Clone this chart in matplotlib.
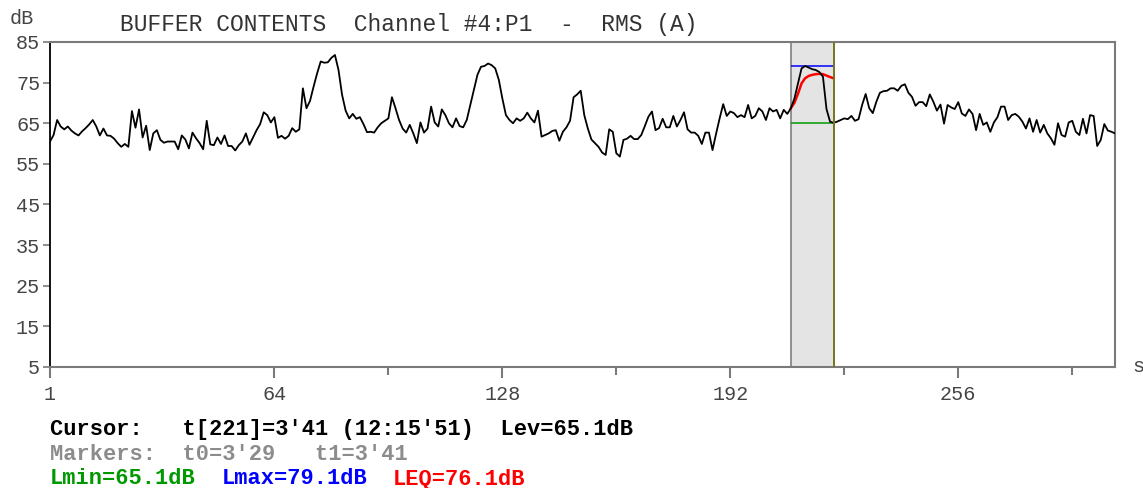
import numpy as np
import matplotlib
matplotlib.use('Agg')
import matplotlib.pyplot as plt

# ---- data ----
seconds = list(range(1, 301))
level_db = [
    60.5, 62.1, 65.8, 64.2, 63.5, 64.2, 63.2, 62.5, 62.0, 63.0,
    63.8, 64.7, 65.8, 64.2, 62.0, 63.7, 62.0, 61.9, 61.2, 60.1,
    59.2, 59.9, 59.2, 68.0, 63.9, 68.4, 61.5, 64.4, 58.4, 62.5,
    63.3, 60.9, 60.2, 60.5, 60.5, 60.5, 58.6, 62.0, 61.0, 58.8,
    62.7, 61.3, 60.1, 58.6, 65.6, 59.8, 59.6, 61.5, 59.9, 62.0,
    59.4, 59.4, 58.3, 59.6, 60.5, 62.5, 59.7, 61.5, 63.3, 64.8,
    67.7, 67.0, 65.2, 66.5, 61.4, 61.9, 61.2, 61.9, 63.8, 62.9,
    63.5, 73.6, 68.7, 70.5, 74.0, 77.3, 80.2, 79.9, 80.0, 81.1,
    81.8, 78.1, 72.0, 68.1, 66.2, 67.3, 66.1, 66.5, 64.8, 62.8,
    62.9, 62.7, 64.0, 65.0, 65.6, 66.2, 71.4, 68.7, 65.8, 63.7,
    62.7, 64.6, 62.5, 60.1, 65.2, 62.7, 63.7, 69.1, 65.2, 64.2,
    68.4, 67.0, 65.0, 64.0, 66.2, 64.3, 64.0, 65.8, 69.5, 73.2,
    76.9, 78.9, 79.1, 79.7, 79.3, 78.5, 75.7, 71.1, 67.0, 65.8,
    65.0, 66.2, 65.6, 66.2, 67.6, 66.2, 65.2, 68.1, 61.7, 62.1,
    62.5, 63.1, 63.3, 60.7, 62.9, 64.0, 65.6, 71.4, 72.1, 73.0,
    67.0, 63.7, 61.0, 60.1, 59.2, 57.8, 57.2, 63.5, 62.9, 57.6,
    56.8, 60.9, 61.2, 61.9, 61.1, 61.1, 62.1, 64.3, 66.6, 67.9,
    63.3, 63.8, 66.1, 64.0, 64.0, 66.8, 64.2, 65.8, 67.7, 63.5,
    62.7, 62.7, 61.9, 59.9, 62.7, 62.7, 58.4, 62.4, 66.2, 69.7,
    66.8, 67.9, 67.5, 66.5, 67.0, 66.5, 69.5, 66.2, 66.8, 68.7,
    67.9, 65.8, 68.7, 67.9, 68.3, 66.2, 68.3, 67.3, 68.7, 71.1,
    74.8, 78.5, 79.1, 78.7, 78.3, 78.1, 77.6, 76.5, 68.5, 65.4,
    65.1, 65.4, 65.8, 66.2, 66.0, 66.8, 65.6, 66.0, 69.5, 72.2,
    68.7, 67.5, 70.3, 72.5, 72.9, 73.0, 73.6, 73.6, 73.0, 74.2,
    74.6, 72.5, 71.5, 69.3, 70.2, 70.2, 69.2, 72.1, 70.3, 68.1,
    69.6, 64.9, 69.5, 68.9, 68.5, 70.2, 67.4, 66.8, 68.4, 67.3,
    63.3, 67.3, 64.6, 65.2, 62.9, 65.2, 66.5, 69.1, 69.1, 65.8,
    67.0, 67.3, 66.6, 65.4, 63.7, 66.2, 62.9, 65.8, 62.7, 64.6,
    62.5, 61.3, 59.7, 65.0, 62.1, 61.7, 65.2, 65.6, 62.9, 62.1,
    66.1, 62.5, 67.0, 66.8, 59.4, 60.9, 64.8, 63.2, 62.9, 62.5,
]
t0_s, t1_s = 209, 221
cursor_s = 221
lmin_db, lmax_db = 65.1, 79.1
ytick_values = [5, 15, 25, 35, 45, 55, 65, 75, 85]
xtick_major = [1, 64, 128, 192, 256]
xtick_minor = [96, 160, 224, 288]

title_text = "BUFFER CONTENTS  Channel #4:P1  -  RMS (A)"
cursor_text = "Cursor:   t[221]=3'41 (12:15'51)  Lev=65.1dB"
markers_text = "Markers:  t0=3'29   t1=3'41"

MONO = 'Liberation Mono'

W, H = 1143, 488
fig = plt.figure(figsize=(W / 100, H / 100), dpi=100)
ax = fig.add_axes([50 / W, (H - 367) / H, 1065 / W, 325 / H])

# marker span
ax.axvspan(t0_s, t1_s, facecolor='#e4e4e4', edgecolor='none', zorder=0)
ax.axvline(t0_s, color='#808080', lw=1.2, zorder=1)

# data
ax.plot(seconds, level_db, color='black', lw=1.3, zorder=3)

# Lmin / Lmax lines
ax.hlines(lmax_db, t0_s, t1_s, color='#0000ff', lw=1.1, zorder=2)
ax.hlines(lmin_db, t0_s, t1_s, color='#009900', lw=1.1, zorder=2)

# running Leq over marker span
seg = np.array(level_db[t0_s - 1:t1_s])
energy = 10 ** (seg / 10)
leq = 10 * np.log10(np.cumsum(energy) / np.arange(1, len(energy) + 1))
ax.plot(list(range(t0_s, t1_s + 1)), leq, color='#ff0000', lw=1.8, zorder=2)

# cursor
ax.axvline(cursor_s, color='#76761e', lw=1.4, zorder=4)

ax.set_xlim(1, 300)
ax.set_ylim(5, 85)

for side in ['top', 'right', 'bottom']:
    ax.spines[side].set_color('#7a7a7a')
    ax.spines[side].set_linewidth(1.5)
ax.spines['left'].set_color('black')
ax.spines['left'].set_linewidth(1.3)

ax.set_yticks(ytick_values)
ax.set_yticklabels([str(v) for v in ytick_values], fontfamily=MONO,
                   fontsize=14.5, color='#444444')
ax.tick_params(axis='y', direction='out', length=5, width=1.2,
               color='#7a7a7a', pad=2)

ax.set_xticks(xtick_major)
ax.set_xticklabels([str(v) for v in xtick_major], fontfamily=MONO,
                   fontsize=14.5, color='#444444')
ax.set_xticks(xtick_minor, minor=True)
ax.tick_params(axis='x', which='major', direction='out', length=8, width=1.5,
               color='#7a7a7a', pad=5)
ax.tick_params(axis='x', which='minor', direction='out', length=6, width=1.5,
               color='#7a7a7a')
ax.xaxis.get_major_ticks()[0].tick1line.set_color('black')

# texts
fig.text(120 / W, 1 - 24 / H, title_text, fontfamily=MONO, fontsize=16.5,
         color='#333333', ha='left', va='center')
fig.text(10 / W, 1 - 18 / H, 'dB', fontfamily=MONO, fontsize=14.5,
         color='#444444', ha='left', va='center')
fig.text(1132 / W, 1 - 367 / H, 's', fontfamily=MONO, fontsize=14.5,
         color='#444444', ha='left', va='center')

fig.text(50 / W, 1 - 430 / H, cursor_text, fontfamily=MONO, fontweight='bold',
         fontsize=15.8, color='black', ha='left', va='center')
fig.text(50 / W, 1 - 455 / H, markers_text, fontfamily=MONO, fontweight='bold',
         fontsize=15.8, color='#8c8c8c', ha='left', va='center')

# coloured summary line
y3 = 1 - 479 / H
char_w = 13.2 / W
fig.text(50 / W, y3, 'Lmin=65.1dB', fontfamily=MONO, fontweight='bold',
         fontsize=15.8, color='#009900', ha='left', va='center')
fig.text(50 / W + 13 * char_w, y3, 'Lmax=79.1dB', fontfamily=MONO,
         fontweight='bold', fontsize=15.8, color='#0000ff', ha='left',
         va='center')
fig.text(50 / W + 26 * char_w, y3, 'LEQ=76.1dB', fontfamily=MONO,
         fontweight='bold', fontsize=15.8, color='#ff0000', ha='left',
         va='center')

fig.savefig('out.png', dpi=100, facecolor='white')
